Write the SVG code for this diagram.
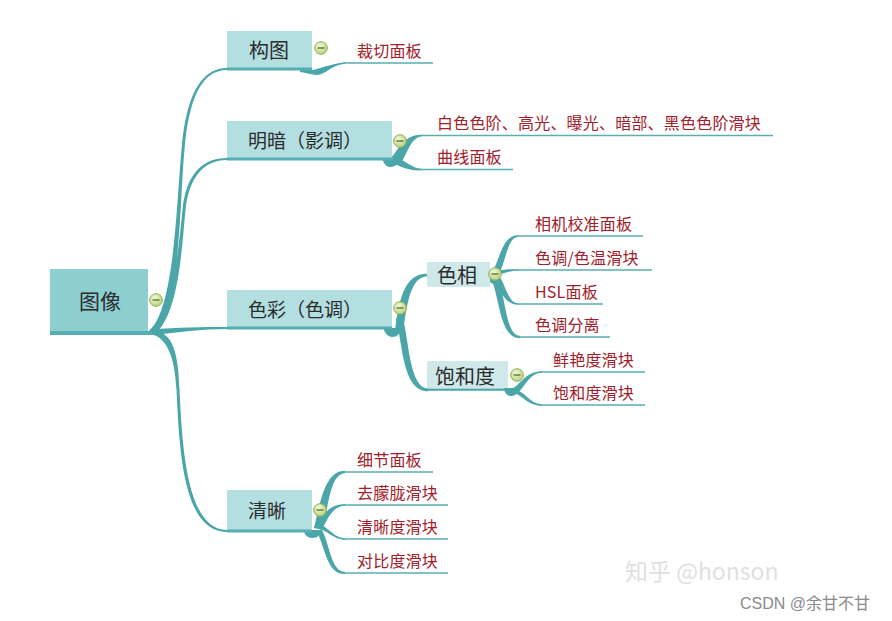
<svg xmlns="http://www.w3.org/2000/svg" width="892" height="621" viewBox="0 0 892 621">
<defs>
<radialGradient id="ig" cx="40%" cy="35%" r="70%">
<stop offset="0" stop-color="#f4f9d8"/>
<stop offset="1" stop-color="#b3d07a"/>
</radialGradient>
<g id="icon">
<circle r="6.3" fill="url(#ig)" stroke="#8fae52" stroke-width="1"/>
<line x1="-3.4" y1="0" x2="3.4" y2="0" stroke="#4f6a2c" stroke-width="1.3"/>
</g>
</defs>
<style>
.br{fill:#4aa6a8}
.leafline{stroke:#5aaeb0;stroke-width:1.5;fill:none}
.root{fill:#8dcfd1}
.sub{fill:#b3dfe1}
.lvl3{fill:#cfe8ea}
.bar{fill:#55aeb1}
.t1{font-family:"Noto Sans CJK SC","Noto Sans",sans-serif;fill:#2b2b2b}
.leaf{font-family:"Noto Sans CJK SC","Noto Sans",sans-serif;font-size:16px;letter-spacing:0.2px;fill:#a0202a}
</style>
<rect width="892" height="621" fill="#ffffff"/>

<g id="connectors">
<!-- root branches -->
<path class="br" d="M149,331 C175,309 176.5,200 181.5,150 C185.5,99.8 199,68 227,68 L227,70 C201,70 188.5,100.2 184.5,150 C179.5,200 181,311 155,334 Z"/>
<path class="br" d="M149,331 C173,311 178.5,250 182.5,210 C185.5,178.8 199,158 227,158 L227,160 C201,160 188.5,181.2 185.5,210 C181.5,250 179,313 155,334 Z"/>
<path class="br" d="M150,329.5 C180,327.5 200,327 227,327 L227,329 C200,329 180,332.5 152,335 Z"/>
<path class="br" d="M150,334 C167,337 174.5,356 176.5,390 C179.5,451 183,532 227,532 L227,530 C187,529.5 182.5,450 179.5,390 C178,354 174,332 152,330 Z"/>
<!-- 构图 -->
<path class="br" d="M300,70 L312,70 C320,69 330,64 345,62.3 L345,63.8 C333,65 328,72 320,74.5 C314,76 308,73 300,72 Z"/>
<!-- 明暗 -->
<path class="br" d="M383,159 L398,159 C400,163 396,167 390,167 C386,167 384,163 383,161 Z"/>
<path class="br" d="M391,158 C400,147 405,134.5 422,134.7 L422,136.3 C411,137.5 408,152 401,163 Z"/>
<path class="br" d="M394,157 C405,159 410,168.3 422,168.7 L422,170.3 C408,171 403,167 394,164 Z"/>
<!-- 色彩 -->
<path class="br" d="M384,328 L398,328 C401,333 398,337 392,337 C388,337 385,333 384,330 Z"/>
<path class="br" d="M395,331 C399,298 405,273.8 427,273.8 L427,276.2 C411,277 407,302 403,333 Z"/>
<path class="br" d="M396,318 C403,347 403,391.3 428,391.3 L428,388.7 C410,388 409,343 403,318 Z"/>
<line x1="427" y1="389.6" x2="512" y2="389.6" stroke="#4aa6a8" stroke-width="2.4"/>
<!-- 色相 -->
<ellipse class="br" cx="494" cy="278" rx="5" ry="6"/>
<path class="br" d="M492,273 C500,258 503,235 518,235.2 L518,236.8 C507,238 506,262 498,276 Z"/>
<path class="br" d="M492,272 C503,269.5 508,269.2 518,269.2 L518,270.8 C508,270.8 503,274 492,277 Z"/>
<path class="br" d="M492,276 C500,290 505,304.8 518,304.8 L518,303.2 C508,303 506,285 498,274 Z"/>
<path class="br" d="M491,277 C500,300 500,338.2 520,338.2 L520,335.8 C506,336 506,300 498,277 Z"/>
<!-- 饱和度 -->
<path class="br" d="M504,388 L516,388 C519,392 516,396 510,396 C506,395 505,392 504,390 Z"/>
<path class="br" d="M510,390 C520,386 525,371 542,371.2 L542,372.8 C528,373 524,390 516,394 Z"/>
<path class="br" d="M510,392 C522,393 526,405.8 542,405.8 L542,404.2 C530,404 526,392 514,389 Z"/>
<!-- 清晰 -->
<path class="br" d="M304,530 L318,530 C321,535 318,538 312,538 C308,538 305,535 304,532 Z"/>
<path class="br" d="M314,528 C321,498 326,470.8 345,470.8 L345,473.2 C331,474 329,500 323,530 Z"/>
<path class="br" d="M316,526 C326,510 332,504.2 345,504.2 L345,505.8 C334,506 329,515 322,530 Z"/>
<path class="br" d="M316,528 C328,530 333,539.8 345,539.8 L345,538.2 C335,538 331,530 320,524 Z"/>
<path class="br" d="M316,530 C325,545 326,574.2 345,574.2 L345,571.8 C331,572 330,545 322,530 Z"/>
<!-- leaf lines -->
<line class="leafline" x1="343" y1="63" x2="433" y2="63"/>
<line class="leafline" x1="420" y1="135.5" x2="773" y2="135.5"/>
<line class="leafline" x1="420" y1="169.5" x2="513" y2="169.5"/>
<line class="leafline" x1="517" y1="236" x2="643" y2="236"/>
<line class="leafline" x1="517" y1="270" x2="652" y2="270"/>
<line class="leafline" x1="517" y1="304" x2="603" y2="304"/>
<line class="leafline" x1="519" y1="337" x2="610" y2="337"/>
<line class="leafline" x1="540" y1="372" x2="645" y2="372"/>
<line class="leafline" x1="540" y1="405" x2="645" y2="405"/>
<line class="leafline" x1="343" y1="472" x2="433" y2="472"/>
<line class="leafline" x1="343" y1="505" x2="448" y2="505"/>
<line class="leafline" x1="343" y1="539" x2="448" y2="539"/>
<line class="leafline" x1="343" y1="573" x2="448" y2="573"/>
</g>

<g id="node-root">
<rect class="root" x="50" y="269" width="98" height="63"/>
<rect class="bar" x="50" y="331" width="102" height="4"/>
<text class="t1" x="100" y="309" font-size="21" text-anchor="middle">图像</text>
<use href="#icon" x="156" y="300"/>
</g>

<g id="node-goutu">
<rect class="sub" x="227" y="31" width="85" height="37"/>
<rect class="bar" x="227" y="67.5" width="85" height="3"/>
<text class="t1" x="269" y="58" font-size="20" text-anchor="middle">构图</text>
<use href="#icon" x="321" y="48"/>
</g>

<g id="node-mingan">
<rect class="sub" x="227" y="121" width="165" height="37"/>
<rect class="bar" x="227" y="157.5" width="165" height="3"/>
<text class="t1" x="248" y="148" font-size="19">明暗（影调）</text>
<use href="#icon" x="400" y="141"/>
</g>

<g id="node-secai">
<rect class="sub" x="227" y="290" width="165" height="37"/>
<rect class="bar" x="227" y="326.5" width="165" height="3"/>
<text class="t1" x="248" y="317" font-size="19">色彩（色调）</text>
<use href="#icon" x="400" y="308"/>
</g>

<g id="node-qingxi">
<rect class="sub" x="227" y="490" width="85" height="40"/>
<rect class="bar" x="227" y="529.5" width="85" height="3"/>
<text class="t1" x="267" y="518" font-size="19" text-anchor="middle">清晰</text>
<use href="#icon" x="320" y="510"/>
</g>

<g id="node-sexiang">
<rect class="lvl3" x="427" y="262" width="63" height="25"/>
<text class="t1" x="457" y="283" font-size="20" text-anchor="middle">色相</text>
<use href="#icon" x="495" y="274"/>
</g>

<g id="node-baohedu">
<rect class="lvl3" x="427" y="361" width="81" height="27"/>
<text class="t1" x="465" y="384" font-size="20" text-anchor="middle">饱和度</text>
<use href="#icon" x="517" y="375"/>
</g>

<g id="leaf-caiqie"><text class="leaf" x="357" y="57">裁切面板</text></g>
<g id="leaf-baise"><text class="leaf" x="437" y="129">白色色阶、高光、曝光、暗部、黑色色阶滑块</text></g>
<g id="leaf-quxian"><text class="leaf" x="437" y="163">曲线面板</text></g>
<g id="leaf-xiangji"><text class="leaf" x="535" y="230">相机校准面板</text></g>
<g id="leaf-sediao"><text class="leaf" x="535" y="264">色调/色温滑块</text></g>
<g id="leaf-hsl"><text class="leaf" x="535" y="298">HSL面板</text></g>
<g id="leaf-fenli"><text class="leaf" x="535" y="331">色调分离</text></g>
<g id="leaf-xianyan"><text class="leaf" x="553" y="366">鲜艳度滑块</text></g>
<g id="leaf-baohe"><text class="leaf" x="553" y="399">饱和度滑块</text></g>
<g id="leaf-xijie"><text class="leaf" x="357" y="466">细节面板</text></g>
<g id="leaf-qumenglong"><text class="leaf" x="357" y="499">去朦胧滑块</text></g>
<g id="leaf-qingxidu"><text class="leaf" x="357" y="533">清晰度滑块</text></g>
<g id="leaf-duibidu"><text class="leaf" x="357" y="567">对比度滑块</text></g>

<g id="watermarks">
<text x="625" y="580" font-family="Noto Sans CJK SC, Noto Sans, sans-serif" font-size="23" fill="#e0e0e0">知乎 @honson</text>
<text x="740" y="609" font-family="Liberation Sans, Noto Sans CJK SC, sans-serif" font-size="16" fill="#8a8a8a">CSDN @余甘不甘</text>
</g>
</svg>
